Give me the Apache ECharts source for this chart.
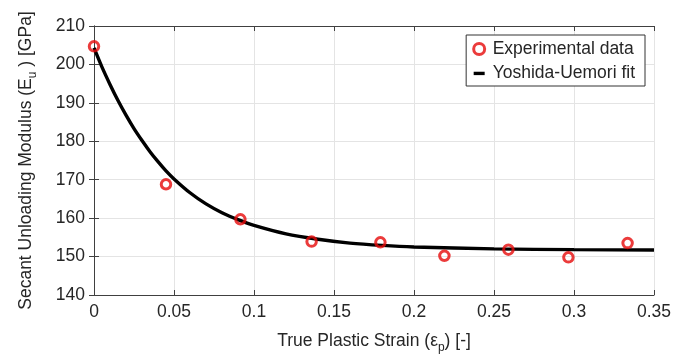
<!DOCTYPE html>
<html>
<head>
<meta charset="utf-8">
<script src="https://cdn.jsdelivr.net/npm/echarts@6/dist/echarts.min.js"></script>
<style>html,body{margin:0;padding:0;background:#fff;}#c{width:700px;height:359px;}</style>
</head>
<body>
<div id="c"></div>
<script>
// Experimental data (true plastic strain, secant unloading modulus in GPa)
const expStrain = [0, 0.045, 0.0915, 0.136, 0.179, 0.219, 0.259, 0.2965, 0.3335];
const expModulus = [204.7, 168.8, 159.7, 153.9, 153.7, 150.2, 151.8, 149.8, 153.5];
// Yoshida-Uemori fit curve
const fitStrain = [0, 0.005, 0.01, 0.015, 0.02, 0.025, 0.03, 0.035, 0.04, 0.045, 0.05, 0.06, 0.07, 0.08, 0.09, 0.1, 0.12, 0.14, 0.16, 0.18, 0.2, 0.25, 0.3, 0.35];
const fitModulus = [204.3, 199.3, 194.8, 190.6, 186.8, 183.3, 180.2, 177.3, 174.7, 172.3, 170.2, 166.6, 163.7, 161.4, 159.6, 158.1, 155.9, 154.5, 153.5, 152.9, 152.5, 152.0, 151.8, 151.7];
const xTicks = [0, 0.05, 0.1, 0.15, 0.2, 0.25, 0.3, 0.35];
const yTicks = [140, 150, 160, 170, 180, 190, 200, 210];
const seriesNames = ['Experimental data', 'Yoshida-Uemori fit'];

const FONT = 'Liberation Sans';
const FS = 17.5;
const TXT = '#262626';
const AX = '#404040';
const chart = echarts.init(document.getElementById('c'), null, {renderer: 'canvas'});
const boxAxis = {
  axisLine: {show: true, lineStyle: {color: AX, width: 1}},
  axisTick: {show: true, inside: true, length: 5, lineStyle: {color: AX}},
  splitLine: {show: false},
  axisLabel: {show: false}
};
chart.setOption({
  animation: false,
  grid: {left: 94, right: 46, top: 26, bottom: 64},
  legend: {
    right: 55, top: 35,
    orient: 'vertical',
    backgroundColor: '#fff',
    borderColor: '#333',
    borderWidth: 1,
    borderRadius: 0,
    padding: [5, 10, 4, 6],
    itemGap: 6,
    itemWidth: 13,
    itemHeight: 11,
    textStyle: {fontFamily: FONT, fontSize: FS, color: TXT, padding: [0, 0, 0, 2]},
    data: [
      {name: seriesNames[0], icon: 'circle', itemStyle: {color: '#fff', borderColor: '#e60a0a', borderWidth: 3}},
      {name: seriesNames[1], icon: 'path://M0,0 M0,5 L13,5 L13,9 L0,9 Z M13,13', itemStyle: {color: '#000', borderWidth: 0}}
    ]
  },
  xAxis: [{
    type: 'value', min: 0, max: 0.35, interval: 0.05,
    position: 'bottom',
    axisLine: {show: true, lineStyle: {color: AX}},
    axisTick: {show: true, inside: true, length: 5, lineStyle: {color: AX}},
    splitLine: {show: true, lineStyle: {color: '#e4e4e4', width: 1}},
    axisLabel: {fontFamily: FONT, fontSize: FS, color: TXT, margin: 8,
      formatter: v => { const t = xTicks.find(x => Math.abs(x - v) < 1e-9); return t === undefined ? '' : String(t); }},
    name: 'True Plastic Strain (ε{sub|p}) [-]',
    nameLocation: 'middle', nameGap: 33,
    nameTextStyle: {fontFamily: FONT, fontSize: FS, color: TXT,
      rich: {sub: {fontFamily: FONT, fontSize: 12, color: TXT, padding: [14, 0, 0, 0]}}}
  }, Object.assign({type: 'value', min: 0, max: 0.35, interval: 0.05, position: 'top'}, boxAxis)],
  yAxis: [{
    type: 'value', min: 140, max: 210, interval: 10,
    position: 'left',
    axisLine: {show: true, lineStyle: {color: AX}},
    axisTick: {show: true, inside: true, length: 5, lineStyle: {color: AX}},
    splitLine: {show: true, lineStyle: {color: '#e4e4e4', width: 1}},
    axisLabel: {fontFamily: FONT, fontSize: FS, color: TXT, margin: 9,
      formatter: v => yTicks.indexOf(v) >= 0 ? String(v) : ''},
    name: 'Secant Unloading Modulus (E{sub|u} ) [GPa]',
    nameLocation: 'middle', nameGap: 55, nameRotate: 90,
    nameTextStyle: {fontFamily: FONT, fontSize: FS, color: TXT,
      rich: {sub: {fontFamily: FONT, fontSize: 12, color: TXT, padding: [14, 0, 0, 0]}}}
  }, Object.assign({type: 'value', min: 140, max: 210, interval: 10, position: 'right'}, boxAxis)],
  series: [
    {
      name: seriesNames[1], type: 'line', smooth: 0.2, showSymbol: false, symbol: 'none',
      data: fitStrain.map((x, i) => [x, fitModulus[i]]),
      lineStyle: {color: '#000', width: 3.4}, itemStyle: {color: '#000'}, z: 2
    },
    {
      name: seriesNames[0], type: 'scatter', symbol: 'circle', symbolSize: 9.5,
      data: expStrain.map((x, i) => [x, expModulus[i]]),
      itemStyle: {color: 'rgba(255,255,255,0)', borderColor: '#e60a0a', borderWidth: 3}, z: 3
    }
  ]
});
</script>
</body>
</html>
